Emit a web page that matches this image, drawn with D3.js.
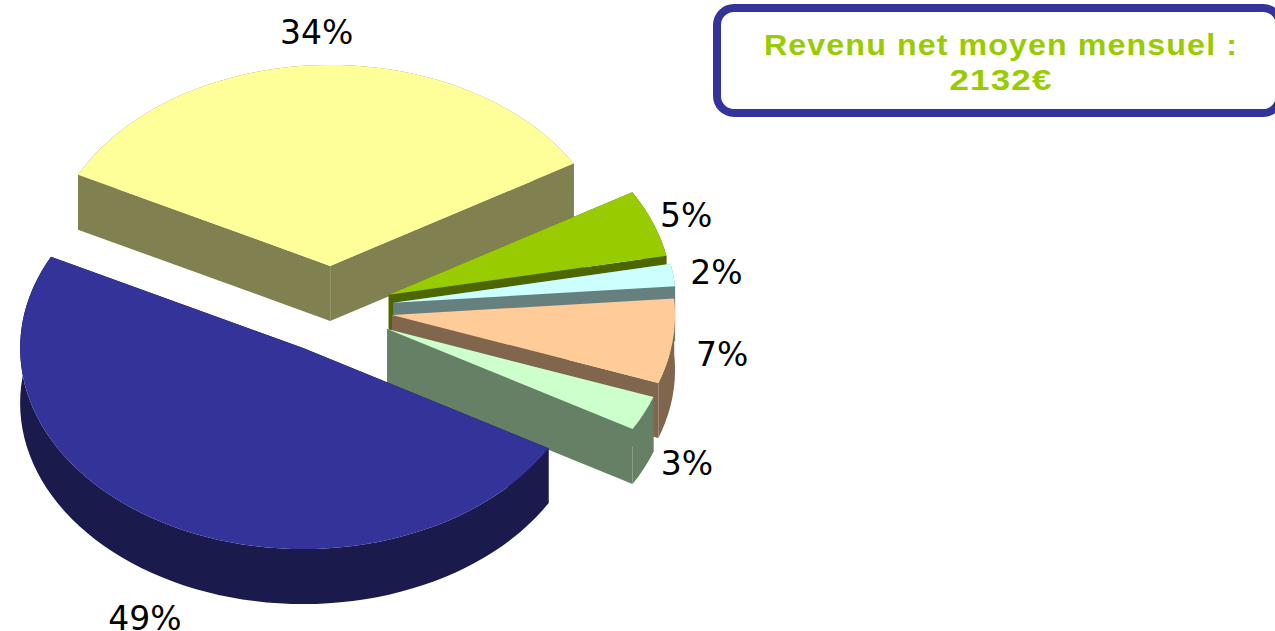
<!DOCTYPE html>
<html>
<head>
<meta charset="utf-8">
<script src="https://cdn.jsdelivr.net/npm/d3@7"></script>
<style>
  html, body { margin: 0; padding: 0; background: #fff; overflow: hidden; }
</style>
</head>
<body>
<div id="chart"></div>
<script>
// slices in drawing order, clockwise from the yellow one
// values, the labels show them rounded
const values = [34, 5.4, 1.8, 6.8, 2.8, 49.2];
const topColors = ['#ffff99', '#99cc00', '#ccffff', '#ffcc99', '#ccffcc', '#333399'];
const sideColors = ['#808050', '#4d6600', '#668080', '#80664d', '#668066', '#1a1a4d'];
const titleLines = ['Revenu net moyen mensuel :', '2132€'];

// label shift from the middle of each slice's rim
const labelShift = [[-4.5, -33], [33, -8], [43, -3], [49.5, 13], [43, 50], [-23.5, 93]];
// small correction of each slice's pulled out position
const nudge = [[-3, -1], [-1, 1], [0, 0], [-1, 1], [-1, 3], [-4, 3]];
const titleWidths = [474, 103];

const width = 1275, height = 631;
const cx = 335, cy = 308.5;   // pie centre before the slices are pulled out
const rx = 283, ry = 201, depth = 55;
const explode = 0.207;
const rad = Math.PI / 180;

const svg = d3.select('#chart').append('svg')
    .attr('width', width)
    .attr('height', height)
    .style('display', 'block');

const pie = d3.pie().sort(null)
    .startAngle(-63 * rad)
    .endAngle(297 * rad);

const line = d3.line().x(d => d[0]).y(d => d[1]);
const pct = d3.format('.0f');

// point on the tilted disc of a slice, angle clockwise from 12 o'clock
const rim = (c, a, z = 0) => [c[0] + rx * Math.sin(a), c[1] - ry * Math.cos(a) + z];

const arcs = pie(values);

arcs.forEach((d, i) => {
    const mid = (d.startAngle + d.endAngle) / 2;
    const c = [
        cx + explode * rx * Math.sin(mid) + nudge[i][0],
        cy - explode * ry * Math.cos(mid) + nudge[i][1]
    ];
    const steps = d3.range(d.startAngle, d.endAngle, 2.5 * rad).concat(d.endAngle);
    const g = svg.append('g');

    // the two cut faces
    [d.startAngle, d.endAngle].forEach(a => {
        g.append('path')
            .attr('d', line([c, rim(c, a), rim(c, a, depth), [c[0], c[1] + depth]]) + 'Z')
            .attr('fill', sideColors[i]);
    });

    // outer wall
    const front = steps.map(a => rim(c, a));
    const back = steps.map(a => rim(c, a, depth)).reverse();
    g.append('path')
        .attr('d', line(front.concat(back)) + 'Z')
        .attr('fill', sideColors[i]);

    // top
    g.append('path')
        .attr('d', line([c].concat(front)) + 'Z')
        .attr('fill', topColors[i]);

    const p = rim(c, mid);
    svg.append('text')
        .attr('x', p[0] + labelShift[i][0])
        .attr('y', p[1] + labelShift[i][1])
        .attr('dy', '0.36em')
        .attr('text-anchor', 'middle')
        .attr('font-family', '"DejaVu Sans", sans-serif')
        .attr('font-size', 33)
        .attr('fill', '#000')
        .text(pct(d.data) + '%');
});

// title box, runs off the right side of the page
svg.append('rect')
    .attr('x', 717)
    .attr('y', 8)
    .attr('width', 563)
    .attr('height', 105)
    .attr('rx', 17)
    .attr('fill', '#fff')
    .attr('stroke', '#333399')
    .attr('stroke-width', 8);

svg.selectAll('.title')
    .data(titleLines)
    .enter().append('text')
    .attr('class', 'title')
    .attr('x', 1001)
    .attr('y', (d, i) => 55 + i * 35)
    .attr('text-anchor', 'middle')
    .attr('font-family', '"Liberation Sans", Arial, sans-serif')
    .attr('font-weight', 'bold')
    .attr('font-size', 30)
    .attr('letter-spacing', 1)
    .attr('textLength', (d, i) => titleWidths[i])
    .attr('lengthAdjust', 'spacingAndGlyphs')
    .attr('fill', '#99cc00')
    .text(d => d);
</script>
</body>
</html>
